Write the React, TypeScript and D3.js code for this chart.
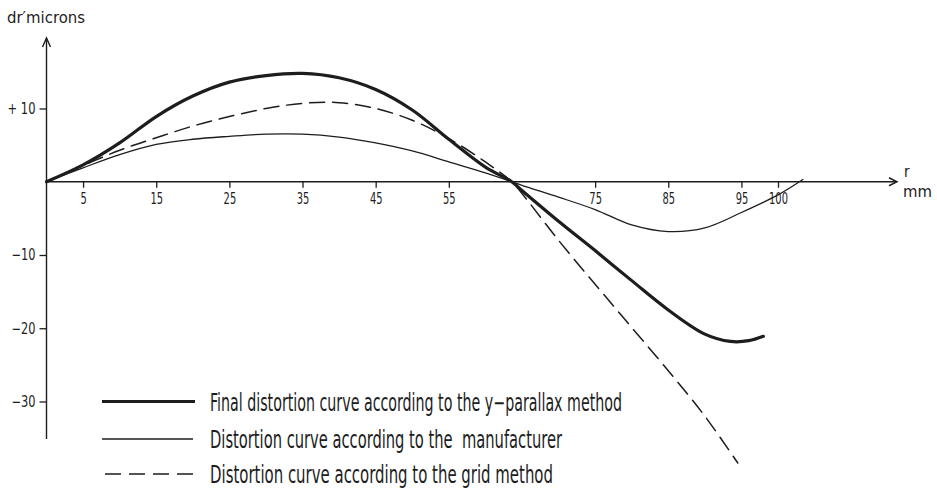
import { useEffect, useRef } from 'react'
import * as d3 from 'd3'

const W = 937
const H = 492

// r (mm) vs dr' (microns)
const rFinal = [0, 5, 10, 15, 20, 25, 30, 35, 40, 45, 50, 55, 60, 63.6, 65, 70, 75, 80, 85, 90, 93.5, 96, 98]
const vFinal = [0, 2.3, 5.3, 8.9, 11.7, 13.6, 14.5, 14.8, 14.2, 12.6, 9.8, 5.8, 2.0, 0, -1.2, -5.4, -9.4, -13.5, -17.5, -20.8, -21.8, -21.7, -21.1]

const rMaker = [0, 5, 10, 15, 20, 25, 30, 35, 40, 45, 50, 55, 60, 63.6, 65, 70, 75, 80, 85, 90, 95, 100, 103.4]
const vMaker = [0, 1.9, 3.7, 5.1, 5.8, 6.2, 6.5, 6.5, 6.1, 5.3, 4.2, 2.7, 1.2, 0, -0.5, -2.1, -3.8, -5.9, -6.8, -6.3, -4.2, -1.8, 0.3]

const rGrid = [0, 5, 10, 15, 20, 25, 30, 35, 40, 45, 50, 55, 60, 63.6, 65, 70, 75, 80, 85, 90, 94.5]
const vGrid = [0, 2.2, 4.3, 6.0, 7.6, 8.9, 10.0, 10.7, 10.8, 10.0, 8.4, 5.9, 2.7, 0, -1.6, -8.0, -14.0, -19.9, -25.8, -32.0, -38.4]

const xTicks = [5, 15, 25, 35, 45, 55, 75, 85, 95, 100]
const yTicks = [10, -10, -20, -30]

const legendLabels = [
  'Final distortion curve according to the y\u2212parallax method',
  'Distortion curve according to the  manufacturer',
  'Distortion curve according to the grid method',
]

const INK = '#1d1d1d'
const FONT = "'Liberation Sans Narrow', 'DejaVu Sans Condensed', 'Liberation Sans', sans-serif"

export default function App() {
  const svgRef = useRef<SVGSVGElement>(null)

  useEffect(() => {
    if (!svgRef.current) return
    const svg = d3.select(svgRef.current)
    svg.selectAll('*').remove()

    const x = d3.scaleLinear().domain([0, 100]).range([46.5, 778])
    const y = d3.scaleLinear().domain([-30, 10]).range([401.5, 108.5])
    const x0 = x(0)
    const y0 = y(0)

    // axes lines with arrows
    svg.append('line').attr('x1', x0).attr('x2', x0).attr('y1', 439).attr('y2', 38)
      .attr('stroke', INK).attr('stroke-width', 1.4)
    svg.append('path').attr('d', `M${x0 - 4},${47} L${x0},${38} L${x0 + 4},${47}`)
      .attr('fill', 'none').attr('stroke', INK).attr('stroke-width', 1.4)
    svg.append('line').attr('x1', x0).attr('x2', 897).attr('y1', y0).attr('y2', y0)
      .attr('stroke', INK).attr('stroke-width', 1.4)
    svg.append('path').attr('d', `M889,${y0 - 4} L897,${y0} L889,${y0 + 4}`)
      .attr('fill', 'none').attr('stroke', INK).attr('stroke-width', 1.4)

    const xAxis = svg.append('g').attr('transform', `translate(0,${y0})`)
      .call(d3.axisBottom(x).tickValues(xTicks).tickSize(6).tickPadding(6).tickSizeOuter(0))
    xAxis.select('.domain').remove()
    xAxis.selectAll('line').attr('stroke', INK).attr('stroke-width', 1.3)
    xAxis.selectAll<SVGTextElement, number>('text')
      .attr('fill', INK).attr('font-family', FONT).attr('font-size', 15)
      .attr('textLength', d => String(d).length * 6.3)
      .attr('lengthAdjust', 'spacingAndGlyphs')

    const yAxis = svg.append('g').attr('transform', `translate(${x0},0)`)
      .call(d3.axisLeft(y).tickValues(yTicks).tickSize(7).tickPadding(4).tickSizeOuter(0)
        .tickFormat(d => (+d > 0 ? `+ ${d}` : `\u2212${Math.abs(+d)}`)))
    yAxis.select('.domain').remove()
    yAxis.selectAll('line').attr('stroke', INK).attr('stroke-width', 1.3)
    yAxis.selectAll<SVGTextElement, number>('text')
      .attr('fill', INK).attr('font-family', FONT).attr('font-size', 15)
      .attr('textLength', d => (d > 0 ? 28 : 24))
      .attr('lengthAdjust', 'spacingAndGlyphs')

    // axis titles
    svg.append('text').attr('x', 7).attr('y', 23).text('dr\u2032microns')
      .attr('fill', INK).attr('font-family', FONT).attr('font-size', 15)
      .attr('textLength', 78).attr('lengthAdjust', 'spacingAndGlyphs')
    svg.append('text').attr('x', 904).attr('y', 177).text('r')
      .attr('fill', INK).attr('font-family', FONT).attr('font-size', 15)
    svg.append('text').attr('x', 903).attr('y', 197).text('mm')
      .attr('fill', INK).attr('font-family', FONT).attr('font-size', 15)
      .attr('textLength', 29).attr('lengthAdjust', 'spacingAndGlyphs')

    const line = d3.line<[number, number]>()
      .x(d => x(d[0])).y(d => y(d[1]))
      .curve(d3.curveCatmullRom.alpha(0.5))

    const series = [
      { r: rMaker, v: vMaker, width: 1.3, dash: null as string | null },
      { r: rGrid, v: vGrid, width: 1.5, dash: '15 8' },
      { r: rFinal, v: vFinal, width: 3.2, dash: null as string | null },
    ]
    series.forEach(s => {
      const pts = s.r.map((r, i) => [r, s.v[i]] as [number, number])
      svg.append('path').attr('d', line(pts)!)
        .attr('fill', 'none').attr('stroke', INK)
        .attr('stroke-width', s.width)
        .attr('stroke-linecap', 'round')
        .attr('stroke-dasharray', s.dash)
    })

    // legend
    const legendStyles = [
      { width: 3.2, dash: null as string | null, ly: 401.5, x1: 102, x2: 195, tl: 412 },
      { width: 1.3, dash: null as string | null, ly: 439, x1: 102, x2: 193, tl: 352 },
      { width: 1.5, dash: '16 8', ly: 474, x1: 105, x2: 193, tl: 343 },
    ]
    legendLabels.forEach((label, i) => {
      const st = legendStyles[i]
      svg.append('line').attr('x1', st.x1).attr('x2', st.x2).attr('y1', st.ly).attr('y2', st.ly)
        .attr('stroke', INK).attr('stroke-width', st.width).attr('stroke-dasharray', st.dash)
      svg.append('text').attr('x', 210).attr('y', st.ly + 9).text(label)
        .attr('fill', INK).attr('font-family', FONT).attr('font-size', 24)
        .attr('textLength', st.tl).attr('lengthAdjust', 'spacingAndGlyphs')
        .style('white-space', 'pre')
    })
  }, [])

  return (
    <svg ref={svgRef} width={W} height={H}
      style={{ position: 'absolute', left: 0, top: 0, background: '#fff' }} />
  )
}
